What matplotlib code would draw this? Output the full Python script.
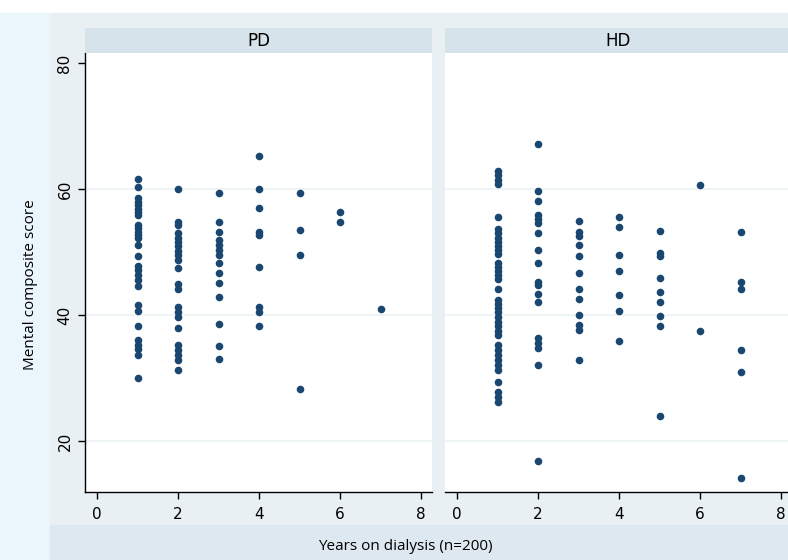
import matplotlib.pyplot as plt
from matplotlib.patches import Rectangle

# years on dialysis and mental composite score, per group
pd_years = [1] * 28 + [2] * 22 + [3] * 14 + [4] * 9 + [5] * 4 + [6] * 2 + [7]
pd_score = [61.6, 60.3, 58.5, 58.0, 57.5, 56.9, 56.4, 55.9, 54.3, 53.8, 53.2, 52.7, 52.2, 51.1,
            49.3, 47.8, 47.1, 46.3, 45.6, 44.6, 41.6, 40.7, 38.3, 36.0, 35.2, 34.6, 33.7, 30.0,
            60.0, 54.8, 54.3, 53.0, 52.3, 51.6, 51.0, 50.2, 49.5, 48.8, 47.4, 45.0, 44.2, 41.3,
            40.5, 39.7, 37.9, 35.2, 34.4, 33.7, 32.9, 31.2,
            59.3, 54.7, 53.2, 51.9, 51.1, 50.3, 49.5, 48.2, 46.6, 45.1, 42.8, 38.6, 35.1, 33.0,
            65.2, 60.0, 57.0, 53.2, 52.7, 47.7, 41.3, 40.5, 38.3,
            59.3, 53.5, 49.5, 28.2,
            56.3, 54.7,
            40.9]

hd_years = [1] * 37 + [2] * 18 + [3] * 12 + [4] * 7 + [5] * 9 + [6] * 2 + [7] * 6
hd_score = [62.8, 62.2, 61.4, 60.8, 55.6, 53.6, 53.0, 52.3, 51.6, 51.0, 50.3, 49.7, 48.3, 47.7,
            47.0, 46.3, 45.7, 44.2, 42.4, 41.7, 41.1, 40.4, 39.7, 38.9, 38.3, 37.5, 36.8, 35.2,
            34.4, 33.7, 32.9, 32.1, 31.3, 29.4, 27.8, 27.0, 26.2,
            67.1, 59.7, 58.1, 55.9, 55.2, 54.6, 53.0, 50.3, 48.2, 45.3, 44.8, 43.4, 42.1, 36.3,
            35.5, 34.7, 32.1, 16.8,
            55.0, 53.2, 52.5, 51.1, 49.3, 46.7, 44.2, 42.6, 40.0, 38.4, 37.6, 32.9,
            55.5, 53.9, 49.5, 47.0, 43.2, 40.7, 35.9,
            53.4, 49.8, 49.3, 45.8, 43.7, 42.1, 39.9, 38.3, 23.9,
            60.7, 37.5,
            53.2, 45.3, 44.1, 34.4, 31.0, 14.1]

groups = ["PD", "HD"]
xticks = [0, 2, 4, 6, 8]
yticks = [20, 40, 60, 80]

W, H = 788, 560
fig = plt.figure(figsize=(7.88, 5.6), dpi=100, facecolor="white")

def px_rect(x0, y0, x1, y1, color):
    fig.patches.append(Rectangle((x0 / W, 1 - y1 / H), (x1 - x0) / W, (y1 - y0) / H,
                                 transform=fig.transFigure, color=color, zorder=-10))

px_rect(0, 13, 50, 560, "#eaf6fc")
px_rect(50, 13, 800, 525, "#e8f0f3")
px_rect(50, 525, 800, 560, "#dde8f0")

navy = "#1a476f"
tickfont = dict(family=["Liberation Sans Narrow", "DejaVu Sans"], size=11)

lefts = [85, 445]
for i, (xs, ys) in enumerate([(pd_years, pd_score), (hd_years, hd_score)]):
    l = lefts[i]
    ax = fig.add_axes([l / W, 1 - 492 / H, 347 / W, 439 / H])
    ax.set_facecolor("white")
    ax.scatter(xs, ys, s=30, color=navy, zorder=3, linewidths=0)
    ax.set_xlim(-0.3, 8.27)
    ax.set_ylim(11.9, 81.6)
    for g in [20, 40, 60]:
        ax.axhline(g, color="#eaf2f4", lw=1.2, zorder=1)
    for s in ["top", "right"]:
        ax.spines[s].set_visible(False)
    ax.spines["bottom"].set_linewidth(1)
    ax.set_xticks(xticks)
    ax.set_xticklabels([str(t) for t in xticks], fontdict=tickfont)
    ax.tick_params(axis="x", length=5, width=1, pad=6)
    if i == 0:
        ax.set_yticks(yticks)
        ax.set_yticklabels([str(t) for t in yticks], fontdict=tickfont, rotation=90, va="center")
        ax.tick_params(axis="y", length=5, width=1, pad=4)
        ax.spines["left"].set_linewidth(1)
    else:
        ax.spines["left"].set_visible(False)
        ax.set_yticks([])
    strip = fig.add_axes([l / W, 1 - 53 / H, 347 / W, 25 / H])
    strip.set_facecolor("#d7e3ea")
    strip.set_xticks([])
    strip.set_yticks([])
    for s in strip.spines.values():
        s.set_visible(False)
    strip.text(0.5, 0.5, groups[i], ha="center", va="center",
               family=["Liberation Sans Narrow", "DejaVu Sans"], fontsize=12)

fig.text(30 / W, 1 - 285 / H, "Mental composite score", rotation=90, ha="center", va="center",
         fontsize=11, family="Open Sans")
fig.text(405 / W, 1 - 547 / H, "Years on dialysis (n=200)", ha="center", va="center",
         fontsize=11, family="Open Sans")

fig.savefig("out.png", dpi=100, facecolor="white")
